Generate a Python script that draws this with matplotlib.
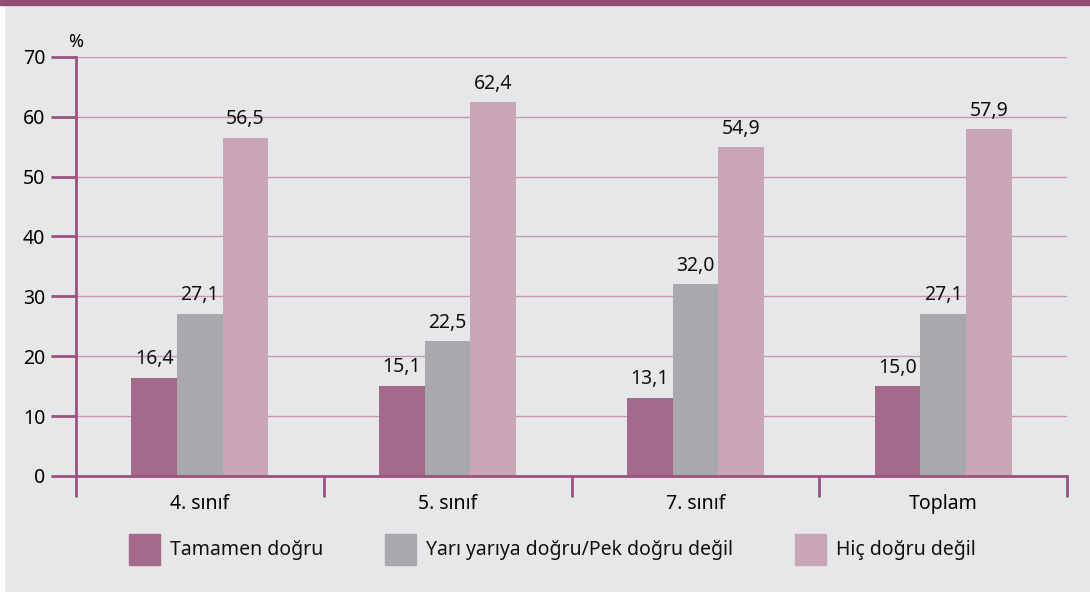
import matplotlib.pyplot as plt
import numpy as np
from matplotlib.patches import Rectangle

plt.rcParams['font.family'] = ['Noto Sans', 'DejaVu Sans']

categories = ['4. sınıf', '5. sınıf', '7. sınıf', 'Toplam']
series_names = ['Tamamen doğru', 'Yarı yarıya doğru/Pek doğru değil', 'Hiç doğru değil']
tamamen = [16.4, 15.1, 13.1, 15.0]
yari = [27.1, 22.5, 32.0, 27.1]
hic = [56.5, 62.4, 54.9, 57.9]
yticks = [0, 10, 20, 30, 40, 50, 60, 70]

colors = ['#a36b89', '#a8a9ad', '#c8a6b7']
axis_col = '#9a5380'
grid_col = '#c996b3'
bg = '#e6e7e9'
fs = 14

fig = plt.figure(figsize=(10.9, 5.92), dpi=100, facecolor=bg)
# thin white strip at the left + purple band on top
fig.patches.append(Rectangle((0, 0), 4 / 1090, 1, transform=fig.transFigure,
                             color='white', zorder=5))
fig.patches.append(Rectangle((0, 0.991), 1, 0.009, transform=fig.transFigure,
                             color='#8f4c75', zorder=5))
ax = fig.add_axes([0.0697, 0.196, 0.9093, 0.708])
ax.set_facecolor(bg)

x = np.arange(len(categories))
w = 0.184
for i, vals in enumerate([tamamen, yari, hic]):
    pos = x + (i - 1) * w
    ax.bar(pos, vals, w, color=colors[i], label=series_names[i], zorder=3)
    for p, v in zip(pos, vals):
        ax.text(p, v + 1.4, '{:.1f}'.format(v).replace('.', ','), ha='center', va='bottom',
                fontsize=fs, color='#111111', zorder=4)

ax.set_xlim(-0.5, len(categories) - 0.5)
ax.set_ylim(0, 70)
ax.set_yticks(yticks)
ax.yaxis.grid(True, color=grid_col, linewidth=1, zorder=0)
ax.tick_params(axis='y', length=18, width=2, color=axis_col, labelsize=fs, pad=4)
ax.set_xticks(x)
ax.set_xticklabels(categories)
ax.tick_params(axis='x', length=0, labelsize=fs, pad=13)
# category boundary ticks
ax.set_xticks(np.arange(len(categories) + 1) - 0.5, minor=True)
ax.tick_params(axis='x', which='minor', length=15, width=2, color=axis_col)

for s in ['top', 'right']:
    ax.spines[s].set_visible(False)
for s in ['left', 'bottom']:
    ax.spines[s].set_color(axis_col)
    ax.spines[s].set_linewidth(2)
    ax.spines[s].set_zorder(4)

ax.text(-0.008, 1.015, '%', transform=ax.transAxes, fontsize=13, va='bottom', ha='left')

# legend: squares and labels laid out like the original
sq_w, sq_h = 31 / 1090, 31 / 592
sq_x = [129 / 1090, 385 / 1090, 795 / 1090]
sq_y = 534 / 592
for c, name, sx in zip(colors, series_names, sq_x):
    fig.patches.append(Rectangle((sx, 1 - sq_y - sq_h), sq_w, sq_h,
                                 transform=fig.transFigure, color=c, zorder=3))
    fig.text(sx + sq_w + 10 / 1090, 1 - sq_y - sq_h / 2, name, fontsize=fs,
             va='center', ha='left', color='#111111')

fig.savefig('out.png', dpi=100, facecolor=bg)
